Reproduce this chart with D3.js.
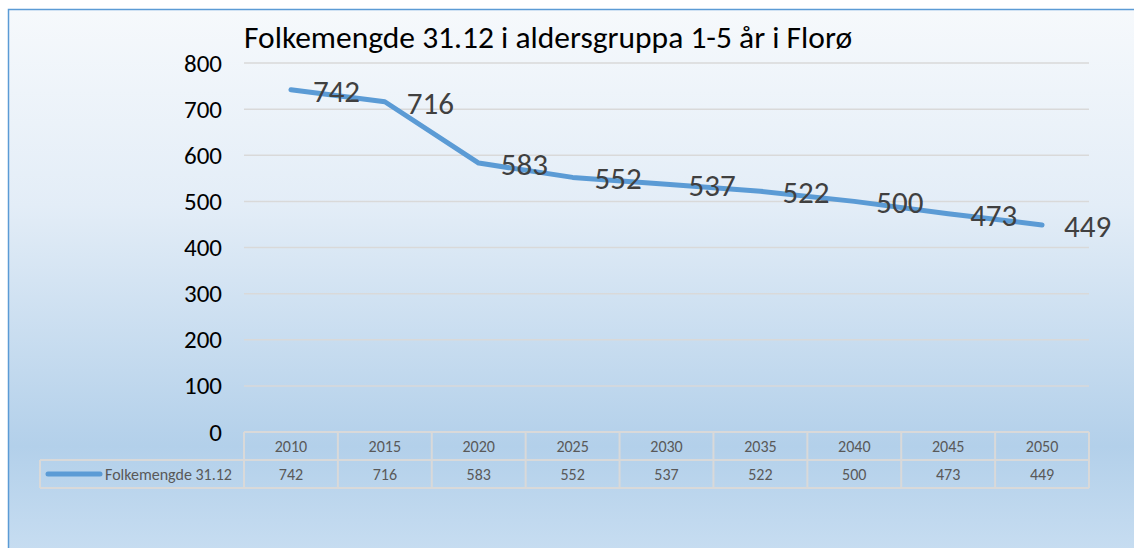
<!DOCTYPE html>
<html>
<head>
<meta charset="utf-8">
<script src="https://cdn.jsdelivr.net/npm/d3@7"></script>
<style>
  body { margin: 0; background: #fff; }
  text { font-family: Calibri, Carlito, Lato, "Open Sans", sans-serif; }
</style>
</head>
<body>
<div id="chart"></div>
<script>
const years = ["2010", "2015", "2020", "2025", "2030", "2035", "2040", "2045", "2050"];
const values = [742, 716, 583, 552, 537, 522, 500, 473, 449];
const yTicks = [0, 100, 200, 300, 400, 500, 600, 700, 800];
const seriesName = "Folkemengde 31.12";
const title = "Folkemengde 31.12 i aldersgruppa 1-5 år i Florø";

const width = 1134, height = 548,
  margin = {top: 63, left: 244, right: 45, bottom: 116};

const svg = d3.select("#chart").append("svg")
  .attr("width", width)
  .attr("height", height);

const defs = svg.append("defs");
const grad = defs.append("linearGradient")
  .attr("id", "bg").attr("x1", 0).attr("y1", 0).attr("x2", 0).attr("y2", 1);
grad.append("stop").attr("offset", "0%").attr("stop-color", "#f6f9fc");
grad.append("stop").attr("offset", "35%").attr("stop-color", "#e3edf7");
grad.append("stop").attr("offset", "78%").attr("stop-color", "#b3d0ea");
grad.append("stop").attr("offset", "100%").attr("stop-color", "#cadff2");

svg.append("rect")
  .attr("x", 8.5).attr("y", 9.5)
  .attr("width", 1140).attr("height", 560)
  .attr("fill", "url(#bg)")
  .attr("stroke", "#5b9bd5")
  .attr("stroke-width", 1.5);

const xScale = d3.scaleBand()
  .domain(years)
  .range([margin.left, width - margin.right]);

const yScale = d3.scaleLinear()
  .domain([0, 800])
  .range([height - margin.bottom, margin.top]);

// gridlines
svg.append("g")
  .selectAll("line")
  .data(yTicks.filter(d => d > 0))
  .enter()
  .append("line")
    .attr("x1", margin.left)
    .attr("x2", width - margin.right)
    .attr("y1", d => yScale(d))
    .attr("y2", d => yScale(d))
    .attr("stroke", "#d9d9d9")
    .attr("stroke-width", 1.5);

// y axis labels
const yAxis = svg.append("g")
  .attr("transform", "translate(" + (margin.left - 22) + ",0)")
  .call(d3.axisLeft(yScale).tickValues(yTicks).tickSize(0).tickPadding(0));
yAxis.select(".domain").remove();
yAxis.selectAll("text")
  .attr("fill", "#000")
  .style("font-size", "25px");

// title
svg.append("text")
  .attr("x", margin.left)
  .attr("y", 48)
  .attr("fill", "#000")
  .style("font-size", "31.5px")
  .text(title);

// line
const line = d3.line()
  .x((d, i) => xScale(years[i]) + xScale.bandwidth() / 2)
  .y(d => yScale(d));

svg.append("path")
  .datum(values)
  .attr("d", line)
  .attr("fill", "none")
  .attr("stroke", "#5b9bd5")
  .attr("stroke-width", 5)
  .attr("stroke-linecap", "round")
  .attr("stroke-linejoin", "round");

// data labels
svg.append("g")
  .selectAll("text")
  .data(values)
  .enter()
  .append("text")
    .attr("x", (d, i) => xScale(years[i]) + xScale.bandwidth() / 2 + 22)
    .attr("y", d => yScale(d) + 12)
    .attr("fill", "#404040")
    .style("font-size", "31px")
    .text(d => d);

// data table
const y0 = yScale(0), rowH = 28;
const tbl = svg.append("g").attr("stroke", "#d9d9d9").attr("stroke-width", 2).attr("fill", "none");
const tableLeft = 40, tableRight = width - margin.right;
tbl.append("line").attr("x1", margin.left).attr("x2", tableRight).attr("y1", y0).attr("y2", y0);
tbl.append("line").attr("x1", tableLeft).attr("x2", tableRight).attr("y1", y0 + rowH).attr("y2", y0 + rowH);
tbl.append("line").attr("x1", tableLeft).attr("x2", tableRight).attr("y1", y0 + rowH * 2).attr("y2", y0 + rowH * 2);
tbl.append("line").attr("x1", tableLeft).attr("x2", tableLeft).attr("y1", y0 + rowH).attr("y2", y0 + rowH * 2);
tbl.selectAll(".v")
  .data(years.concat(["end"]))
  .enter()
  .append("line")
    .attr("x1", (d, i) => margin.left + i * xScale.bandwidth())
    .attr("x2", (d, i) => margin.left + i * xScale.bandwidth())
    .attr("y1", y0)
    .attr("y2", y0 + rowH * 2);

svg.append("g")
  .selectAll("text")
  .data(years)
  .enter()
  .append("text")
    .attr("x", d => xScale(d) + xScale.bandwidth() / 2)
    .attr("y", y0 + rowH / 2 + 6)
    .attr("text-anchor", "middle")
    .attr("fill", "#595959")
    .style("font-size", "16px")
    .text(d => d);

svg.append("g")
  .selectAll("text")
  .data(values)
  .enter()
  .append("text")
    .attr("x", (d, i) => xScale(years[i]) + xScale.bandwidth() / 2)
    .attr("y", y0 + rowH * 1.5 + 6)
    .attr("text-anchor", "middle")
    .attr("fill", "#595959")
    .style("font-size", "16px")
    .text(d => d);

// legend key in table
svg.append("line")
  .attr("x1", 48).attr("x2", 100)
  .attr("y1", y0 + rowH * 1.5).attr("y2", y0 + rowH * 1.5)
  .attr("stroke", "#5b9bd5")
  .attr("stroke-width", 5)
  .attr("stroke-linecap", "round");
svg.append("text")
  .attr("x", 105)
  .attr("y", y0 + rowH * 1.5 + 6)
  .attr("fill", "#595959")
  .style("font-size", "16px")
  .text(seriesName);
</script>
</body>
</html>
